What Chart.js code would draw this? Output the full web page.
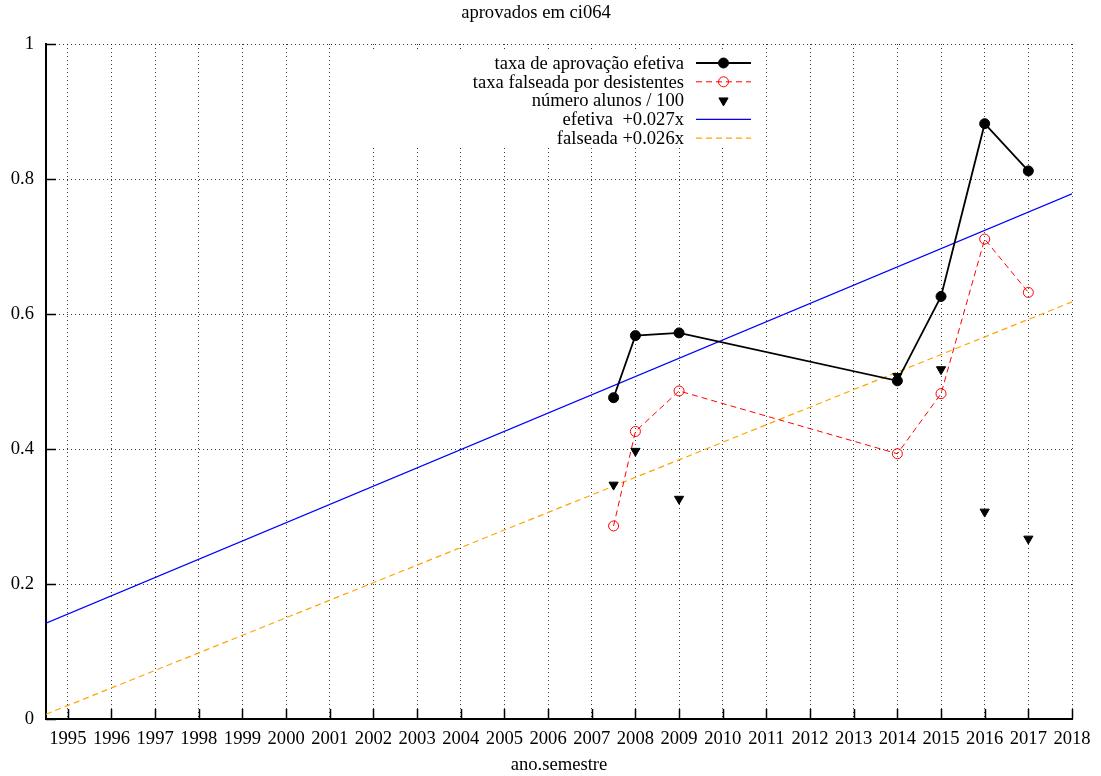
<!DOCTYPE html>
<html>
<head>
<meta charset="utf-8">
<title>aprovados em ci064</title>
<script src="https://cdn.jsdelivr.net/npm/chart.js@4/dist/chart.umd.min.js"></script>
<style>
  body { margin: 0; background: #fff; }
  #wrap { width: 1101px; height: 776px; }
</style>
</head>
<body>
<div id="wrap"><canvas id="chart" width="1101" height="776"></canvas></div>
<script>
const semesters = [2007.5, 2008, 2009, 2014, 2015, 2016, 2017];
const taxaEfetiva = [0.476, 0.568, 0.572, 0.501, 0.626, 0.882, 0.812];
const taxaFalseada = [0.286, 0.426, 0.486, 0.393, 0.482, 0.711, 0.632];
const alunos100 = [0.347, 0.397, 0.326, 0.508, 0.518, 0.307, 0.267];

const fitRange = [1994.5, 2018];
const fitEfetiva = [0.142, 0.778];
const fitFalseada = [0.007, 0.618];

const yearTicks = [1995, 1996, 1997, 1998, 1999, 2000, 2001, 2002, 2003, 2004, 2005, 2006,
  2007, 2008, 2009, 2010, 2011, 2012, 2013, 2014, 2015, 2016, 2017, 2018];
const yTicks = [0, 0.2, 0.4, 0.6, 0.8, 1];

const FONT = "'Liberation Serif', 'Times New Roman', serif";
const FONT_SIZE = 18.6;
const GRID_COLOR = "rgba(0,0,0,0.8)";
const GRID_DASH = [1, 3];

function toPoints(xs, ys) {
  return xs.map((x, i) => ({ x: x, y: ys[i] }));
}

// gnuplot style key: text right aligned, sample on the right, opaque box
const keyPlugin = {
  id: "gnuKey",
  afterDatasetsDraw(chart) {
    const ctx = chart.ctx;
    const textRight = 684;
    const sampleLeft = 696;
    const sampleRight = 751;
    const rowTop = 63;
    const rowStep = 18.8;

    ctx.save();
    ctx.fillStyle = "#fff";
    ctx.fillRect(345, 52, 417, 96);

    ctx.font = FONT_SIZE + "px " + FONT;
    ctx.textAlign = "right";
    ctx.textBaseline = "middle";

    chart.data.datasets.forEach((ds, i) => {
      const y = rowTop + i * rowStep;
      ctx.fillStyle = "#000";
      ctx.fillText(ds.label, textRight, y + 1);

      if (ds.showLine !== false) {
        ctx.strokeStyle = ds.borderColor;
        ctx.lineWidth = ds.borderWidth;
        ctx.setLineDash(ds.borderDash || []);
        ctx.beginPath();
        ctx.moveTo(sampleLeft, y);
        ctx.lineTo(sampleRight, y);
        ctx.stroke();
        ctx.setLineDash([]);
      }

      if (ds.pointRadius > 0) {
        ctx.fillStyle = ds.pointBackgroundColor;
        ctx.strokeStyle = ds.pointBorderColor;
        ctx.lineWidth = ds.pointBorderWidth;
        Chart.helpers.drawPoint(ctx, {
          pointStyle: ds.pointStyle,
          radius: ds.pointRadius,
          rotation: ds.pointRotation || 0,
          borderWidth: ds.pointBorderWidth
        }, (sampleLeft + sampleRight) / 2, y);
      }
    });
    ctx.restore();
  }
};

// short tick marks pointing into the plot, like gnuplot
const innerTicksPlugin = {
  id: "innerTicks",
  afterDraw(chart) {
    const ctx = chart.ctx;
    const area = chart.chartArea;
    const xScale = chart.scales.x;
    const yScale = chart.scales.y;

    ctx.save();
    ctx.strokeStyle = "#000";
    ctx.lineWidth = 1.5;
    ctx.beginPath();
    yScale.ticks.forEach((t) => {
      const py = Math.round(yScale.getPixelForValue(t.value)) + 0.5;
      ctx.moveTo(area.left, py);
      ctx.lineTo(area.left + 10, py);
    });
    xScale.ticks.forEach((t) => {
      const px = Math.round(xScale.getPixelForValue(t.value)) + 0.5;
      ctx.moveTo(px, area.bottom);
      ctx.lineTo(px, area.bottom - 10);
    });
    ctx.stroke();
    ctx.restore();
  }
};

function setupChart() {
  const canvas = document.getElementById("chart");

  new Chart(canvas, {
    type: "scatter",
    data: {
      datasets: [
        {
          label: "taxa de aprovação efetiva",
          data: toPoints(semesters, taxaEfetiva),
          showLine: true,
          borderColor: "#000",
          borderWidth: 1.8,
          pointStyle: "circle",
          pointRadius: 5,
          pointBackgroundColor: "#000",
          pointBorderColor: "#000",
          pointBorderWidth: 1
        },
        {
          label: "taxa falseada por desistentes",
          data: toPoints(semesters, taxaFalseada),
          showLine: true,
          borderColor: "#ff0000",
          borderWidth: 1,
          borderDash: [6, 4],
          pointStyle: "circle",
          pointRadius: 5,
          pointBackgroundColor: "rgba(0,0,0,0)",
          pointBorderColor: "#ff0000",
          pointBorderWidth: 1
        },
        {
          label: "número alunos / 100",
          data: toPoints(semesters, alunos100),
          showLine: false,
          borderColor: "#000",
          borderWidth: 0,
          pointStyle: "triangle",
          pointRotation: 180,
          rotation: 180,
          pointRadius: 5.3,
          pointBackgroundColor: "#000",
          pointBorderColor: "#000",
          pointBorderWidth: 1
        },
        {
          label: "efetiva  +0.027x",
          data: toPoints(fitRange, fitEfetiva),
          showLine: true,
          borderColor: "#0000ff",
          borderWidth: 1.2,
          pointRadius: 0
        },
        {
          label: "falseada +0.026x",
          data: toPoints(fitRange, fitFalseada),
          showLine: true,
          borderColor: "#ffa500",
          borderWidth: 1.2,
          borderDash: [6, 4],
          pointRadius: 0
        }
      ]
    },
    options: {
      responsive: false,
      animation: false,
      events: [],
      layout: { padding: { left: 0, right: 29, top: 0, bottom: 0 } },
      elements: { line: { tension: 0 } },
      plugins: {
        legend: { display: false },
        tooltip: { enabled: false },
        title: {
          display: true,
          text: "aprovados em ci064",
          color: "#000",
          font: { family: FONT, size: FONT_SIZE, weight: "normal" },
          padding: { top: 2, bottom: 19.7 }
        }
      },
      scales: {
        x: {
          type: "linear",
          min: fitRange[0],
          max: fitRange[1],
          afterBuildTicks: (scale) => {
            scale.ticks = yearTicks.map((v) => ({ value: v }));
          },
          afterFit: (scale) => {
            scale.height = 57;
          },
          ticks: {
            autoSkip: false,
            maxRotation: 0,
            padding: 9,
            color: "#000",
            font: { family: FONT, size: FONT_SIZE },
            callback: (v) => String(v)
          },
          grid: {
            color: GRID_COLOR,
            lineWidth: 1,
            drawTicks: false
          },
          border: { display: true, color: "#000", width: 2, dash: GRID_DASH },
          title: {
            display: true,
            text: "ano.semestre",
            color: "#000",
            font: { family: FONT, size: FONT_SIZE },
            padding: { top: 0, bottom: 0 }
          }
        },
        y: {
          type: "linear",
          min: 0,
          max: 1,
          afterBuildTicks: (scale) => {
            scale.ticks = yTicks.map((v) => ({ value: v }));
          },
          afterFit: (scale) => {
            scale.width = 46;
          },
          ticks: {
            padding: 12,
            color: "#000",
            font: { family: FONT, size: FONT_SIZE },
            callback: (v) => String(v)
          },
          grid: {
            color: GRID_COLOR,
            lineWidth: 1,
            drawTicks: false
          },
          border: { display: true, color: "#000", width: 2, dash: GRID_DASH }
        }
      }
    },
    plugins: [keyPlugin, innerTicksPlugin]
  });
}

setupChart();
</script>
</body>
</html>
